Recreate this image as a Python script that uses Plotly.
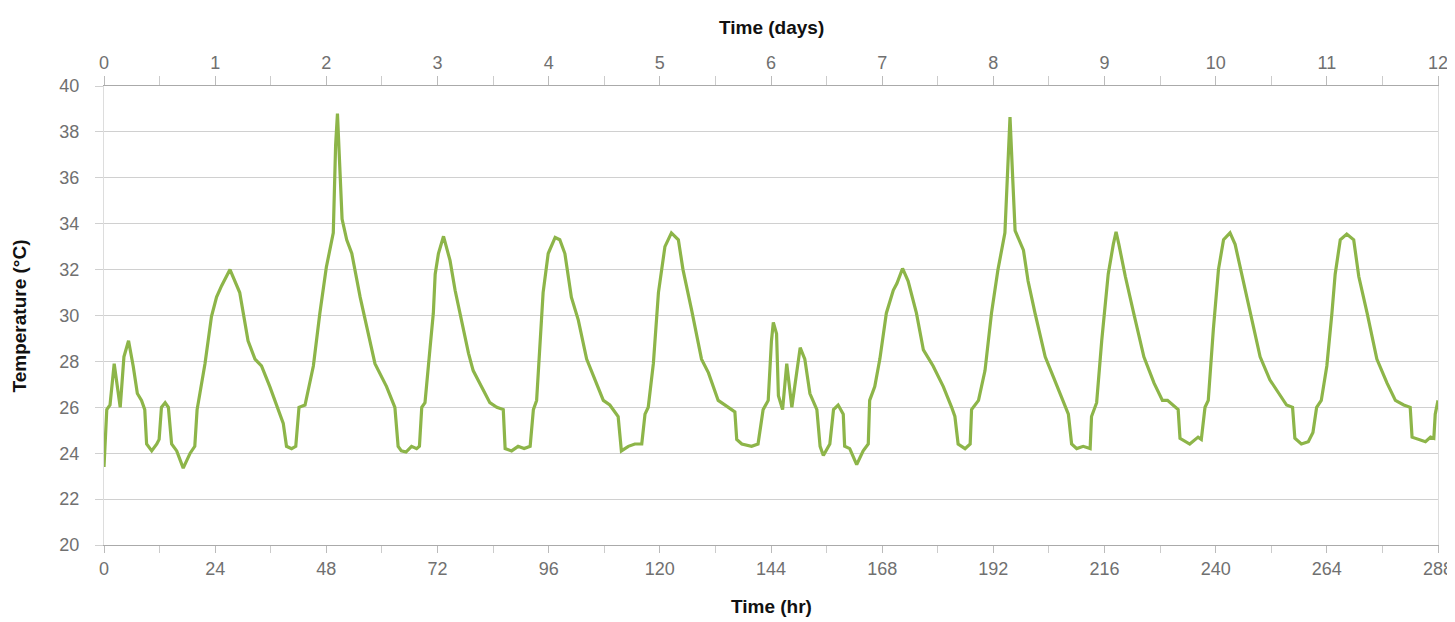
import plotly.graph_objects as go

# Time (hr) and temperature (°C)
hours = [0.0, 0.6, 1.3, 2.2, 3.5, 4.3, 5.3, 6.3, 7.2, 8.1, 8.8,
         9.2, 10.3, 11.4, 11.9, 12.4, 13.2, 13.9, 14.6, 15.7, 17.1, 18.6, 19.6,
         20.1, 20.7, 21.8, 23.2, 24.3, 25.4, 27.2, 29.3, 31.1, 32.6, 34.0, 35.8, 38.0, 38.7,
         39.4, 40.5, 41.4, 42.1, 43.4, 45.2, 46.6, 48.0, 49.5, 50.0, 50.4, 51.0, 51.4,
         52.4, 53.5, 55.3, 56.7, 58.5, 61.0, 62.8, 63.5, 64.2, 65.2, 66.4, 67.5, 68.1,
         68.6, 69.3, 70.4, 71.1, 71.5, 72.2, 73.3, 74.7, 75.8, 77.2, 78.7, 79.7, 81.5,
         83.3, 84.8, 86.2, 86.6, 88.0, 89.4, 90.7, 92.0, 92.7, 93.4, 94.1, 94.8, 95.9,
         97.4, 98.4, 99.5, 100.9, 102.4, 104.2, 106.0, 107.8, 109.2, 111.0, 111.7, 113.2,
         114.6, 116.1, 116.8, 117.5, 118.6, 119.7, 121.1, 122.5, 124.0, 125.0, 126.9,
         129.0, 130.5, 132.6, 134.8, 136.2, 136.6, 137.7, 139.8, 141.2, 142.3, 143.4,
         144.1, 144.5, 145.2, 145.6, 146.5, 147.4, 148.5, 150.3, 151.3, 152.4, 153.9,
         154.6, 155.3, 156.7, 157.5, 158.5, 159.6, 159.9, 161.0, 162.5, 163.9, 165.0,
         165.3, 166.4, 167.5, 168.9, 170.4, 171.2, 172.4, 173.6, 175.4, 176.9, 179.0,
         181.2, 183.0, 183.7, 184.4, 185.9, 187.0, 187.3, 188.8, 190.2, 191.6, 193.0,
         194.5, 195.0, 195.6, 196.2, 196.7, 198.5, 199.5, 201.0, 203.2, 205.0, 207.1,
         208.2, 208.9, 210.0, 211.4, 212.9, 213.2, 214.3, 215.4, 216.1, 216.8, 217.9,
         218.5, 219.1, 220.5, 222.3, 224.5, 226.7, 228.5, 229.6, 231.2, 231.9, 232.3,
         233.7, 234.4, 236.2, 236.9, 237.7, 238.4, 239.5, 240.6, 241.7, 243.1, 244.2,
         245.6, 247.4, 249.6, 251.7, 253.9, 255.3, 256.6, 257.1, 258.5, 260.0, 261.0,
         261.8, 262.8, 264.0, 265.1, 265.8, 266.9, 268.3, 269.8, 270.9, 272.7, 274.8,
         277.0, 278.8, 280.6, 282.0, 282.4, 283.8, 285.3, 286.4, 287.1, 287.4, 288.0]

temps = [23.4, 25.9, 26.1, 27.9, 26.0, 28.2, 28.9, 27.8, 26.6, 26.3, 25.9,
         24.4, 24.1, 24.4, 24.6, 26.0, 26.2, 26.0, 24.4, 24.1, 23.35, 24.0, 24.3,
         25.9, 26.6, 27.9, 29.95, 30.8, 31.3, 32.0, 31.0, 28.9, 28.1, 27.8, 26.9, 25.7, 25.3,
         24.3, 24.2, 24.3, 26.0, 26.1, 27.8, 30.1, 32.1, 33.6, 37.4, 38.8, 35.9, 34.2,
         33.3, 32.7, 30.8, 29.5, 27.9, 26.9, 26.0, 24.3, 24.1, 24.05, 24.3, 24.2, 24.3,
         26.0, 26.2, 28.6, 30.1, 31.8, 32.7, 33.45, 32.4, 31.1, 29.8, 28.35, 27.6, 26.9,
         26.2, 26.0, 25.9, 24.2, 24.1, 24.3, 24.2, 24.3, 25.9, 26.3, 28.6, 31.0, 32.7,
         33.4, 33.3, 32.7, 30.8, 29.8, 28.1, 27.2, 26.3, 26.1, 25.6, 24.1, 24.3,
         24.4, 24.4, 25.7, 26.0, 27.9, 31.0, 33.0, 33.6, 33.3, 32.0, 30.2,
         28.1, 27.5, 26.3, 26.0, 25.8, 24.6, 24.4, 24.3, 24.4, 25.9, 26.3,
         28.9, 29.7, 29.2, 26.5, 25.9, 27.9, 26.0, 28.6, 28.1, 26.6, 25.9,
         24.3, 23.9, 24.4, 25.9, 26.1, 25.7, 24.3, 24.2, 23.5, 24.1, 24.4,
         26.3, 26.9, 28.1, 30.1, 31.1, 31.4, 32.05, 31.5, 30.1, 28.5, 27.8,
         26.9, 26.0, 25.6, 24.4, 24.2, 24.4, 25.9, 26.3, 27.6, 30.1, 32.0,
         33.6, 35.9, 38.65, 35.9, 33.7, 32.85, 31.5, 30.1, 28.2, 27.3, 26.3,
         25.7, 24.4, 24.2, 24.3, 24.2, 25.6, 26.2, 28.9, 30.4, 31.8, 33.1,
         33.65, 33.1, 31.7, 30.1, 28.2, 27.05, 26.3, 26.3, 26.0, 25.9, 24.65,
         24.5, 24.4, 24.7, 24.6, 26.0, 26.3, 29.4, 32.0, 33.3, 33.6, 33.1,
         31.8, 30.1, 28.2, 27.2, 26.5, 26.1, 26.0, 24.65, 24.4, 24.5, 24.9,
         26.0, 26.3, 27.8, 30.1, 31.8, 33.3, 33.55, 33.3, 31.7, 30.1, 28.1,
         27.05, 26.3, 26.1, 26.0, 24.7, 24.6, 24.5, 24.7, 24.65, 25.7, 26.3]

hr_ticks = list(range(0, 289, 24))
day_ticks = list(range(0, 13))

FONT = "Liberation Sans"
TICK_COLOR = "#707070"
GRID = "#d0d0d0"
TITLE_FONT = dict(family=FONT, size=19, color="#111111")

fig = go.Figure()
fig.add_trace(go.Scatter(x=hours, y=temps, mode="lines",
                         line=dict(color="#8db549", width=3.2),
                         showlegend=False, hoverinfo="x+y"))
# invisible trace to activate top axis
fig.add_trace(go.Scatter(x=[0, 12], y=[None, None], xaxis="x2", yaxis="y",
                         mode="lines", showlegend=False, hoverinfo="skip"))

fig.update_layout(
    width=1455, height=614,
    margin=dict(l=96, r=25, t=78, b=77, autoexpand=False),
    paper_bgcolor="white", plot_bgcolor="white",
    font=dict(family=FONT, size=18, color=TICK_COLOR),
    xaxis=dict(range=[0, 288], tickvals=hr_ticks, ticks="outside", ticklen=7,
               tickcolor="#bbbbbb", showgrid=False, zeroline=False,
               showline=True, linecolor="#aaaaaa", linewidth=1,
               ticklabeloverflow="allow",
               minor=dict(dtick=12, tick0=0, ticks="outside", ticklen=7,
                          tickcolor="#cccccc"),
               tickfont=dict(family=FONT, size=18, color=TICK_COLOR)),
    xaxis2=dict(range=[0, 12], overlaying="x", side="top", tickvals=day_ticks,
                ticks="outside", ticklen=9, tickcolor="#bbbbbb",
                showgrid=False, zeroline=False, showline=True,
                linecolor="#aaaaaa", linewidth=1,
                ticklabeloverflow="allow",
                minor=dict(dtick=0.5, tick0=0, ticks="outside", ticklen=9,
                           tickcolor="#cccccc"),
                tickfont=dict(family=FONT, size=18, color=TICK_COLOR)),
    yaxis=dict(range=[20, 40], dtick=2, tick0=20, ticks="outside", ticklen=8,
               tickcolor=GRID, showgrid=True, gridcolor=GRID, gridwidth=1,
               zeroline=False, showline=True, linecolor="#dddddd", mirror=True,
               ticklabelstandoff=12, ticklabeloverflow="allow",
               tickfont=dict(family=FONT, size=18, color=TICK_COLOR)),
    annotations=[
        dict(text="<b>Time (days)</b>", xref="paper", yref="paper",
             x=0.5, y=1.1285, xanchor="center", yanchor="middle",
             showarrow=False, font=TITLE_FONT),
        dict(text="<b>Time (hr)</b>", xref="paper", yref="paper",
             x=0.5, y=-0.1329, xanchor="center", yanchor="middle",
             showarrow=False, font=TITLE_FONT),
        dict(text="<b>Temperature (°C)</b>", xref="paper", yref="paper",
             x=-0.063, y=0.5, xanchor="center", yanchor="middle",
             textangle=-90, showarrow=False, font=TITLE_FONT),
    ],
)

fig.write_html("out.html")
